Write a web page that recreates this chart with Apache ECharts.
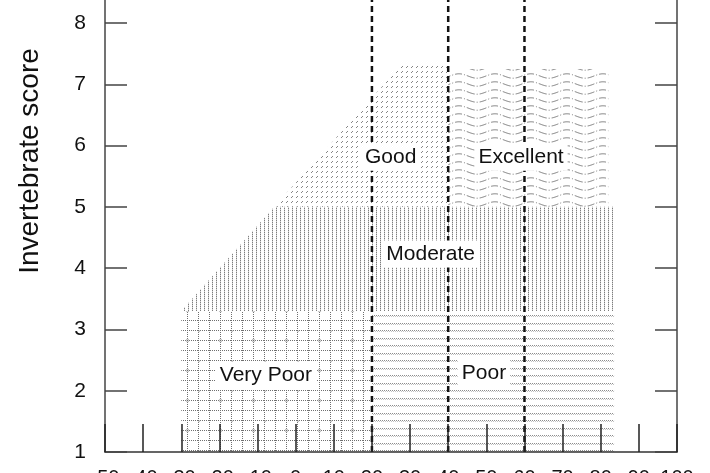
<!DOCTYPE html>
<html><head><meta charset="utf-8">
<script src="https://cdn.jsdelivr.net/npm/echarts@6/dist/echarts.min.js"></script>
<style>html,body{margin:0;padding:0;background:#fff}#c{width:710px;height:473px}</style>
</head><body><div id="c"></div>
<script>
// ---- data ----
const xTicks = [-50,-40,-30,-20,-10,0,10,20,30,40,50,60,70,80,90,100];
const yTicks = [1,2,3,4,5,6,7,8];
const dividerX = [20, 40, 60];
const veryPoorPoly = [[-30,1],[20,1],[20,3.3],[-30,3.3]];
const poorPoly = [[20,1],[83.5,1],[83.5,3.3],[20,3.3]];
const moderatePoly = [[-30,3.3],[83.5,3.3],[83.5,5.0],[-5.6,5.0]];
const goodPoly = [[-5.6,5.0],[40,5.0],[40,7.3],[27.5,7.3]];
const excellentPoly = [[40,5.0],[82,5.0],[82,7.25],[40,7.25]];
const labelNames = ['Good','Excellent','Moderate','Very Poor','Poor'];
const labelX = [24.9, 59.1, 35.4, -7.8, 49.4];
const labelY = [5.81, 5.81, 4.23, 2.25, 2.28];
const yTitle = 'Invertebrate score';

// ---- patterns ----
function makeCanvas(w,h,draw){const c=document.createElement('canvas');c.width=w;c.height=h;const g=c.getContext('2d');draw(g);return c;}
const pVeryPoor = makeCanvas(33,30,g=>{
  g.fillStyle='#6f6f6f';
  for(const lx of [0,11,22]) for(let y=0;y<30;y+=2) g.fillRect(lx,y,1,1);
  for(const ly of [0,10,20]) for(let x=0;x<33;x+=2) g.fillRect(x,ly,1,1);
  g.strokeStyle='#999';g.lineWidth=0.7;
  for(const [cx,cy] of [[0.5,0.5],[22.5,10.5]]){g.beginPath();g.arc(cx,cy,1.4,0,Math.PI*2);g.stroke();}
});
const pPoor = makeCanvas(4,15,g=>{
  g.fillStyle='#8c8c8c';
  for(const ry of [0,8]){g.fillRect(0,ry,1,1);g.fillRect(2,ry,1,1);}
  g.fillStyle='#c4c4c4';
  for(const ry of [1,9]){g.fillRect(1,ry,1,1);g.fillRect(3,ry,1,1);}
});
const pModerate = makeCanvas(4,2,g=>{
  g.fillStyle='#7e7e7e';g.fillRect(0,0,1,1);
  g.fillStyle='#d0d0d0';g.fillRect(0,1,1,1);
});
const pGood = makeCanvas(5,5,g=>{
  g.fillStyle='#858585';g.fillRect(2,1,1,1);g.fillRect(1,2,1,1);
});
const pExcellent = makeCanvas(36,8,g=>{
  g.strokeStyle='#777';g.lineWidth=1;g.setLineDash([7,2,1,2]);
  g.beginPath();
  for(let x=0;x<=36;x+=0.5){const y=4+2.2*Math.sin(2*Math.PI*x/36);if(x===0)g.moveTo(x,y);else g.lineTo(x,y);}
  g.stroke();
});
const regionPolys = [veryPoorPoly, poorPoly, moderatePoly, goodPoly, excellentPoly];
const regionFills = [pVeryPoor, pPoor, pModerate, pGood, pExcellent].map(c=>({image:c, repeat:'repeat'}));

const FONT = "'Liberation Sans', Arial, Helvetica, sans-serif";
const chart = echarts.init(document.getElementById('c'), null, {renderer:'canvas'});
const axisCommon = {
  type:'value', min:1, max:8.375, z:10,
  axisLine:{show:true, onZero:false, lineStyle:{color:'#444', width:1.5}},
  axisTick:{show:true, inside:true, length:22, customValues:yTicks, lineStyle:{color:'#444', width:1.5}},
  splitLine:{show:false}
};
chart.setOption({
  animation:false,
  backgroundColor:'#fff',
  grid:{left:105, right:33, top:0, bottom:21, containLabel:false, outerBoundsMode:'none'},
  xAxis:{
    type:'value', min:-50, max:100, interval:10, position:'bottom', z:10,
    axisLine:{onZero:false, lineStyle:{color:'#333', width:1.5}},
    axisTick:{inside:true, length:28, lineStyle:{color:'#222', width:1.5}},
    axisLabel:{margin:16, fontSize:20, color:'#111', fontFamily:FONT, customValues:xTicks, formatter:v=>String(v)},
    splitLine:{show:false}
  },
  yAxis:[
    Object.assign({}, axisCommon, {position:'left',
      axisLabel:{show:true, customValues:yTicks, margin:19, fontSize:21, color:'#111', fontFamily:FONT}}),
    Object.assign({}, axisCommon, {position:'right', axisLabel:{show:false}})
  ],
  graphic:[{type:'text', x:30, y:161, rotation:Math.PI/2,
    style:{text:yTitle, font:'28px '+FONT, fill:'#111', align:'center', verticalAlign:'middle'}}],
  series:[
    {type:'custom', z:1, silent:true, data:regionPolys.map((p,i)=>[i]),
      renderItem:(params, api)=>{
        const poly = regionPolys[params.dataIndex];
        return {type:'polygon', shape:{points:poly.map(p=>api.coord(p))}, style:{fill:regionFills[params.dataIndex]}};
      }},
    {type:'custom', z:2, silent:true, data:dividerX.map(x=>[x]),
      renderItem:(params, api)=>{
        const x = dividerX[params.dataIndex];
        const a = api.coord([x,1]), b = api.coord([x,8.375]);
        return {type:'line', shape:{x1:a[0],y1:a[1],x2:b[0],y2:b[1]}, style:{stroke:'#111', lineWidth:2.5, lineDash:[6,4]}};
      }},
    {type:'custom', z:3, silent:true, data:labelNames.map((n,i)=>[labelX[i], labelY[i]]),
      renderItem:(params, api)=>{
        const i = params.dataIndex;
        const p = api.coord([labelX[i], labelY[i]]);
        return {type:'text', x:p[0], y:p[1], style:{text:labelNames[i], font:'21px '+FONT, fill:'#111',
          align:'center', verticalAlign:'middle', backgroundColor:'#fff', padding:[3,4]}};
      }}
  ]
});
</script></body></html>
